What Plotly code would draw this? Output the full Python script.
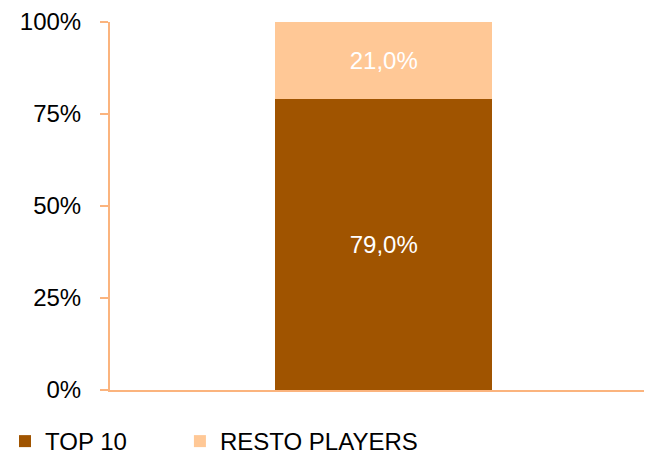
import plotly.graph_objects as go

categories = [""]
top10 = [79.0]
resto = [21.0]
series_names = ["TOP 10", "RESTO PLAYERS"]
y_ticks = [0, 25, 50, 75, 100]
y_tick_labels = ["0%", "25%", "50%", "75%", "100%"]

dark = "#A05400"
light = "#FFC896"
axis_col = "#FBB47E"
FONT = "Liberation Sans, Arial"

fig = go.Figure()
for name, vals, col, lg in [(series_names[0], top10, dark, "legend"),
                            (series_names[1], resto, light, "legend2")]:
    fig.add_trace(go.Bar(
        x=categories, y=vals, name=name, marker=dict(color=col, line=dict(width=0)),
        width=0.396, texttemplate="%{y:.1f}%", textposition="inside", insidetextanchor="middle",
        textfont=dict(color="white", size=24, family=FONT), legend=lg,
    ))

leg_common = dict(orientation="h", xanchor="left", y=-0.14, yanchor="middle",
                  font=dict(size=24), itemclick=False, bgcolor="rgba(0,0,0,0)")

fig.update_layout(
    barmode="stack",
    separators=",.",
    width=644, height=450,
    margin=dict(l=102, r=0, t=14, b=68, autoexpand=False),
    paper_bgcolor="white", plot_bgcolor="white",
    font=dict(family=FONT, size=24, color="black"),
    showlegend=True,
    legend=dict(x=-0.1937, **leg_common),
    legend2=dict(x=0.129, **leg_common),
    xaxis=dict(showline=True, linecolor=axis_col, linewidth=2, showticklabels=False,
               showgrid=False, zeroline=False, range=[-0.5, 0.49], ticks="", fixedrange=True,
               automargin=False),
    yaxis=dict(range=[0, 100], tickvals=y_ticks, ticktext=y_tick_labels,
               showline=True, linecolor=axis_col, linewidth=2, ticks="outside",
               ticklen=8, tickwidth=2, tickcolor=axis_col, showgrid=False, zeroline=False,
               ticklabelstandoff=14, automargin=False, ticklabeloverflow="allow"),
)
fig.write_html("out.html")
